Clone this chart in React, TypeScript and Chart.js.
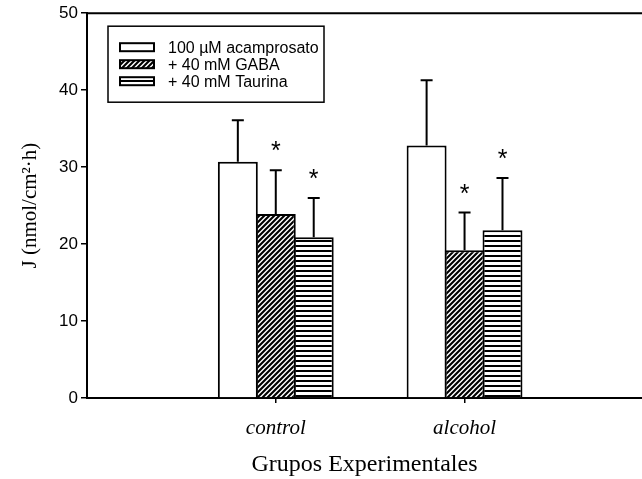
import { useEffect, useRef } from 'react';
import { Chart, registerables } from 'chart.js';

Chart.register(...registerables);

const categories = ['control', 'alcohol'];
const categoryPositions = [1, 2];
const seriesLabels = ['100 µM acamprosato', '+ 40 mM GABA', '+ 40 mM Taurina'];
const acamprosatoValues = [30.7, 32.8];
const gabaValues = [23.9, 19.2];
const taurinaValues = [20.9, 21.8];
const acamprosatoErrors = [5.4, 8.5];
const gabaErrors = [5.7, 4.9];
const taurinaErrors = [5.1, 6.8];
const acamprosatoSignificant = [false, false];
const gabaSignificant = [true, true];
const taurinaSignificant = [true, true];
const yTicks = [0, 10, 20, 30, 40, 50];
const xMin = 0;
const xMax = 2.94;

const SANS = "'Liberation Sans', Arial, sans-serif";
const SERIF = "'Liberation Serif', 'Times New Roman', serif";

function makeDiagonalPattern(): CanvasPattern | string {
  const c = document.createElement('canvas');
  const s = 5;
  c.width = s;
  c.height = s;
  const g = c.getContext('2d');
  if (!g) return '#777';
  g.fillStyle = '#fff';
  g.fillRect(0, 0, s, s);
  g.strokeStyle = '#000';
  g.lineWidth = 2.1;
  g.beginPath();
  g.moveTo(-1, s + 1);
  g.lineTo(s + 1, -1);
  g.moveTo(-1, 1);
  g.lineTo(1, -1);
  g.moveTo(s - 1, s + 1);
  g.lineTo(s + 1, s - 1);
  g.stroke();
  const p = g.createPattern(c, 'repeat');
  return p || '#777';
}

function makeHorizontalPattern(): CanvasPattern | string {
  const c = document.createElement('canvas');
  c.width = 5;
  c.height = 5;
  const g = c.getContext('2d');
  if (!g) return '#999';
  g.fillStyle = '#fff';
  g.fillRect(0, 0, 5, 5);
  g.fillStyle = '#000';
  g.fillRect(0, 0, 5, 2);
  const p = g.createPattern(c, 'repeat');
  return p || '#999';
}

const errorBarPlugin = {
  id: 'errorBars',
  afterDatasetsDraw(chart: any) {
    const ctx = chart.ctx;
    const yScale = chart.scales.y;
    chart.data.datasets.forEach((ds: any, i: number) => {
      const meta = chart.getDatasetMeta(i);
      meta.data.forEach((el: any, j: number) => {
        const v = ds.data[j].y;
        const e = ds.errors[j];
        const yTop = yScale.getPixelForValue(v + e);
        const x = el.x;
        ctx.save();
        ctx.strokeStyle = '#000';
        ctx.lineWidth = 2;
        ctx.beginPath();
        ctx.moveTo(x, el.y);
        ctx.lineTo(x, yTop);
        ctx.moveTo(x - 6, yTop);
        ctx.lineTo(x + 6, yTop);
        ctx.stroke();
        if (ds.significant[j]) {
          ctx.fillStyle = '#000';
          ctx.font = `25px ${SANS}`;
          ctx.textAlign = 'center';
          ctx.textBaseline = 'alphabetic';
          ctx.fillText('*', x, yTop - 11);
        }
        ctx.restore();
      });
    });
  },
};

const framePlugin = {
  id: 'frameTop',
  afterDraw(chart: any) {
    const { ctx, chartArea } = chart;
    ctx.save();
    ctx.strokeStyle = '#000';
    ctx.lineWidth = 2;
    ctx.beginPath();
    ctx.moveTo(chartArea.left - 1, chartArea.top);
    ctx.lineTo(chart.width, chartArea.top);
    ctx.stroke();
    ctx.restore();
  },
};

const boxLegendPlugin = {
  id: 'boxLegend',
  afterDraw(chart: any) {
    const { ctx, chartArea } = chart;
    const bx = chartArea.left + 21;
    const by = chartArea.top + 13;
    const bw = 216;
    const bh = 76;
    ctx.save();
    ctx.fillStyle = '#fff';
    ctx.fillRect(bx, by, bw, bh);
    ctx.strokeStyle = '#000';
    ctx.lineWidth = 1.5;
    ctx.strokeRect(bx, by, bw, bh);
    chart.data.datasets.forEach((ds: any, i: number) => {
      const cy = by + 21 + i * 17;
      const sx = bx + 12;
      const sw = 34;
      const sh = 8;
      ctx.fillStyle = ds.backgroundColor;
      ctx.fillRect(sx, cy - sh / 2, sw, sh);
      ctx.strokeStyle = '#000';
      ctx.lineWidth = 2;
      ctx.strokeRect(sx, cy - sh / 2, sw, sh);
      ctx.fillStyle = '#000';
      ctx.font = `16px ${SANS}`;
      ctx.textAlign = 'left';
      ctx.textBaseline = 'middle';
      ctx.fillText(ds.label, bx + 60, cy + 1);
    });
    ctx.restore();
  },
};

export default function App() {
  const canvasRef = useRef<HTMLCanvasElement | null>(null);

  useEffect(() => {
    document.body.style.margin = '0';
    const canvas = canvasRef.current;
    if (!canvas) return;
    const diag = makeDiagonalPattern();
    const horiz = makeHorizontalPattern();
    const toPoints = (vals: number[]) => vals.map((v, k) => ({ x: categoryPositions[k], y: v }));
    const common = {
      borderColor: '#000',
      borderWidth: 2,
      borderSkipped: 'start',
      categoryPercentage: 0.603,
      barPercentage: 1.053,
    };
    const chart = new Chart(canvas, {
      type: 'bar',
      data: {
        datasets: [
          {
            ...common,
            label: seriesLabels[0],
            data: toPoints(acamprosatoValues),
            backgroundColor: '#fff',
            errors: acamprosatoErrors,
            significant: acamprosatoSignificant,
          } as any,
          {
            ...common,
            label: seriesLabels[1],
            data: toPoints(gabaValues),
            backgroundColor: diag,
            errors: gabaErrors,
            significant: gabaSignificant,
          } as any,
          {
            ...common,
            label: seriesLabels[2],
            data: toPoints(taurinaValues),
            backgroundColor: horiz,
            errors: taurinaErrors,
            significant: taurinaSignificant,
          } as any,
        ],
      },
      options: {
        responsive: false,
        animation: false,
        devicePixelRatio: 1,
        layout: { padding: { top: 13, right: 0, left: 0, bottom: 0 } },
        plugins: {
          legend: { display: false },
          tooltip: { enabled: false },
        },
        scales: {
          x: {
            type: 'linear',
            min: xMin,
            max: xMax,
            offset: false,
            afterBuildTicks: (scale: any) => {
              scale.ticks = categoryPositions.map((v) => ({ value: v }));
            },
            afterFit: (scale: any) => {
              scale.height = 81;
            },
            ticks: {
              autoSkip: false,
              maxRotation: 0,
              padding: 13,
              color: '#000',
              font: { family: SERIF, size: 21, style: 'italic' },
              callback: (value: any) => {
                const k = categoryPositions.indexOf(Number(value));
                return k >= 0 ? categories[k] : '';
              },
            },
            grid: {
              display: true,
              drawOnChartArea: false,
              drawTicks: true,
              tickLength: 5,
              color: '#000',
              lineWidth: 1.5,
              offset: false,
            },
            border: { display: true, color: '#000', width: 2 },
            title: {
              display: true,
              text: 'Grupos Experimentales',
              color: '#000',
              font: { family: SERIF, size: 24 },
              padding: { top: 0, bottom: 0 },
            },
          },
          y: {
            type: 'linear',
            min: 0,
            max: 50,
            afterBuildTicks: (scale: any) => {
              scale.ticks = yTicks.map((v) => ({ value: v }));
            },
            afterFit: (scale: any) => {
              scale.width = 87;
            },
            ticks: {
              padding: 3,
              color: '#000',
              font: { family: SANS, size: 17 },
            },
            grid: {
              display: true,
              drawOnChartArea: false,
              drawTicks: true,
              tickLength: 6,
              color: '#000',
              lineWidth: 1.5,
            },
            border: { display: true, color: '#000', width: 2 },
            title: {
              display: true,
              text: 'J (nmol/cm²·h)',
              color: '#000',
              font: { family: SERIF, size: 21 },
              padding: { top: 18, bottom: 0 },
            },
          },
        },
      } as any,
      plugins: [errorBarPlugin, framePlugin, boxLegendPlugin],
    });
    return () => {
      chart.destroy();
    };
  }, []);

  return (
    <div style={{ width: 642, height: 479 }}>
      <canvas ref={canvasRef} width={642} height={479} />
    </div>
  );
}
